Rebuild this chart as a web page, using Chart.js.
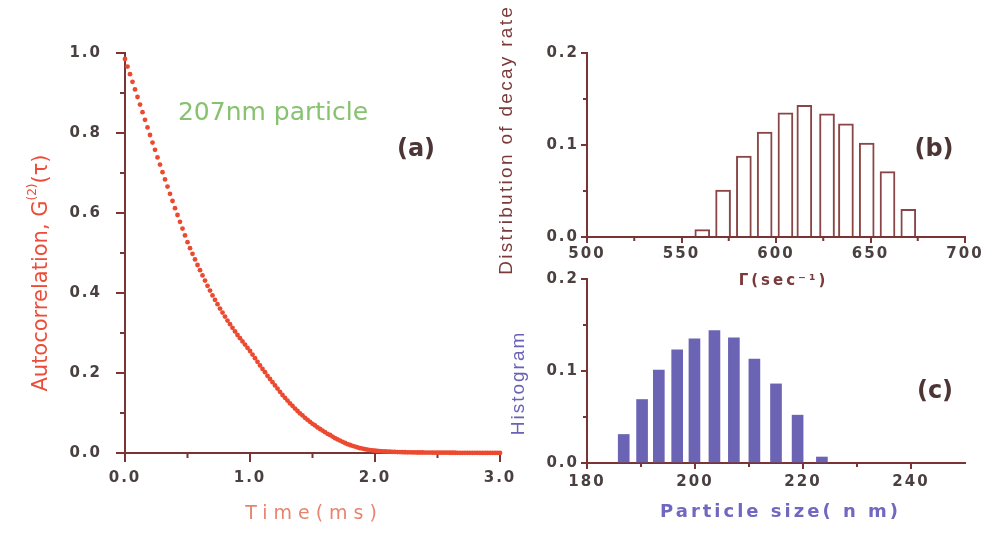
<!DOCTYPE html>
<html>
<head>
<meta charset="utf-8">
<script src="https://cdn.jsdelivr.net/npm/chart.js@4.4.1/dist/chart.umd.min.js"></script>
<style>
  html, body { margin: 0; background: #fff; }
  #wrap { position: relative; width: 983px; height: 535px; }
  #wrap canvas { position: absolute; left: 0; top: 0; }
</style>
</head>
<body>
<div id="wrap">
  <canvas id="chartA" width="983" height="535"></canvas>
  <canvas id="chartB" width="983" height="535"></canvas>
  <canvas id="chartC" width="983" height="535"></canvas>
</div>
<script>
// (a) autocorrelation vs time
const timeMs = [
  0.00, 0.02, 0.04, 0.06, 0.08, 0.10, 0.12, 0.14, 0.16, 0.18, 0.20, 0.22, 0.24, 0.26, 0.28, 0.30, 0.32, 0.34, 0.36, 0.38,
  0.40, 0.42, 0.44, 0.46, 0.48, 0.50, 0.52, 0.54, 0.56, 0.58, 0.60, 0.62, 0.64, 0.66, 0.68, 0.70, 0.72, 0.74, 0.76, 0.78,
  0.80, 0.82, 0.84, 0.86, 0.88, 0.90, 0.92, 0.94, 0.96, 0.98, 1.00, 1.02, 1.04, 1.06, 1.08, 1.10, 1.12, 1.14, 1.16, 1.18,
  1.20, 1.22, 1.24, 1.26, 1.28, 1.30, 1.32, 1.34, 1.36, 1.38, 1.40, 1.42, 1.44, 1.46, 1.48, 1.50, 1.52, 1.54, 1.56, 1.58,
  1.60, 1.62, 1.64, 1.66, 1.68, 1.70, 1.72, 1.74, 1.76, 1.78, 1.80, 1.82, 1.84, 1.86, 1.88, 1.90, 1.92, 1.94, 1.96, 1.98,
  2.00, 2.02, 2.04, 2.06, 2.08, 2.10, 2.12, 2.14, 2.16, 2.18, 2.20, 2.22, 2.24, 2.26, 2.28, 2.30, 2.32, 2.34, 2.36, 2.38,
  2.40, 2.42, 2.44, 2.46, 2.48, 2.50, 2.52, 2.54, 2.56, 2.58, 2.60, 2.62, 2.64, 2.66, 2.68, 2.70, 2.72, 2.74, 2.76, 2.78,
  2.80, 2.82, 2.84, 2.86, 2.88, 2.90, 2.92, 2.94, 2.96, 2.98, 3.00
]
const autocorrelation = [
  0.985, 0.966, 0.947, 0.928, 0.909, 0.890, 0.871, 0.852, 0.833, 0.814, 0.795, 0.776, 0.758, 0.739, 0.721, 0.702, 0.684, 0.666, 0.648, 0.630,
  0.612, 0.595, 0.578, 0.561, 0.544, 0.527, 0.512, 0.498, 0.484, 0.470, 0.457, 0.444, 0.431, 0.418, 0.406, 0.394, 0.383, 0.372, 0.361, 0.351,
  0.341, 0.331, 0.322, 0.313, 0.304, 0.295, 0.287, 0.279, 0.271, 0.263, 0.255, 0.246, 0.237, 0.228, 0.219, 0.210, 0.202, 0.193, 0.185, 0.177,
  0.169, 0.161, 0.153, 0.145, 0.138, 0.131, 0.124, 0.118, 0.111, 0.105, 0.099, 0.094, 0.088, 0.083, 0.078, 0.073, 0.069, 0.064, 0.060, 0.056,
  0.052, 0.048, 0.045, 0.041, 0.037, 0.034, 0.031, 0.028, 0.025, 0.022, 0.020, 0.018, 0.016, 0.014, 0.012, 0.011, 0.0095, 0.0083, 0.0072, 0.0065,
  0.0058, 0.0052, 0.0047, 0.0043, 0.0039, 0.0035, 0.0032, 0.0029, 0.0026, 0.0024, 0.0022, 0.0020, 0.0019, 0.0017, 0.0016, 0.0015, 0.0014, 0.0013, 0.0012, 0.0012,
  0.0011, 0.0010, 0.0010, 0.0009, 0.0009, 0.0008, 0.0008, 0.0007, 0.0007, 0.0007, 0.0006, 0.0006, 0.0006, 0.0005, 0.0005, 0.0005, 0.0005, 0.0004, 0.0004, 0.0004,
  0.0004, 0.0004, 0.0003, 0.0003, 0.0003, 0.0003, 0.0003, 0.0003, 0.0002, 0.0002, 0.0002
]
const timeTicks = [0, 1, 2, 3]
const timeMinorTicks = [0.5, 1.5, 2.5]
const corrTicks = [0, 0.2, 0.4, 0.6, 0.8, 1.0]
const corrMinorTicks = [0.1, 0.3, 0.5, 0.7, 0.9]

// (b) decay rate distribution
const decayRate = [561, 572, 583, 594, 605, 615, 627, 637, 648, 659, 670]
const decayDistribution = [0.008, 0.051, 0.088, 0.114, 0.135, 0.143, 0.134, 0.123, 0.102, 0.071, 0.030]
const decayTicks = [500, 550, 600, 650, 700]
const decayMinorTicks = [525, 575, 625, 675]

// (c) particle size histogram
const particleSize = [186.8, 190.2, 193.3, 196.7, 199.9, 203.6, 207.2, 211.0, 215.0, 219.0, 223.5]
const sizeHistogram = [0.031, 0.069, 0.101, 0.123, 0.135, 0.144, 0.136, 0.113, 0.086, 0.052, 0.0065]
const sizeTicks = [180, 200, 220, 240]
const sizeMinorTicks = [190, 210, 230]

const fractionTicks = [0, 0.1, 0.2]
const fractionMinorTicks = [0.05, 0.15]

const axisColor = '#7a3434'
const tickColor = '#4a4040'
const tickFont = { family: 'DejaVu Sans', size: 15, weight: 'bold' }

// tick labels in the figure are letter-spaced
const spacedTicks = {
  id: 'spacedTicks',
  beforeDraw (chart) {
    chart.ctx.letterSpacing = '2px'
  }
}

const minorTicks = {
  id: 'minorTicks',
  beforeDatasetsDraw (chart, args, opts) {
    const { ctx, chartArea } = chart
    const { x, y } = chart.scales
    ctx.save()
    ctx.strokeStyle = axisColor
    ctx.lineWidth = 2
    ctx.beginPath()
    for (const v of opts.x) {
      const px = x.getPixelForValue(v)
      ctx.moveTo(px, chartArea.bottom)
      ctx.lineTo(px, chartArea.bottom + opts.length)
    }
    for (const v of opts.y) {
      const py = y.getPixelForValue(v)
      ctx.moveTo(chartArea.left, py)
      ctx.lineTo(chartArea.left - opts.length, py)
    }
    ctx.stroke()
    ctx.restore()
  }
}

// free text: panel letters, axis titles, annotation
const panelText = {
  id: 'panelText',
  afterDraw (chart, args, opts) {
    const ctx = chart.ctx
    for (const item of opts.items) {
      const runs = item.runs || [{ text: item.text, font: item.font, dy: 0 }]
      const spacing = item.spacing || 0
      ctx.save()
      ctx.translate(item.x, item.y)
      if (item.rotate) ctx.rotate(item.rotate)
      ctx.fillStyle = item.color
      ctx.letterSpacing = spacing + 'px'
      ctx.textAlign = 'left'
      ctx.textBaseline = 'middle'
      let total = 0
      for (const r of runs) {
        ctx.font = r.font
        total += ctx.measureText(r.text).width
      }
      let cx = -(total - spacing) / 2
      for (const r of runs) {
        ctx.font = r.font
        ctx.fillText(r.text, cx, r.dy || 0)
        cx += ctx.measureText(r.text).width
      }
      ctx.restore()
    }
  }
}

function axis ({ min, max, ticks, digits, horizontal, size, tickLength, padding }) {
  return {
    type: 'linear',
    min,
    max,
    offset: false,
    border: { display: true, color: axisColor, width: 2 },
    grid: {
      display: true,
      drawOnChartArea: false,
      drawTicks: true,
      offset: false,
      tickLength,
      color: axisColor,
      lineWidth: 2
    },
    ticks: {
      font: tickFont,
      color: tickColor,
      padding,
      autoSkip: false,
      maxRotation: 0,
      callback: v => v.toFixed(digits)
    },
    afterBuildTicks: scale => {
      scale.ticks = ticks.map(value => ({ value }))
    },
    afterFit: scale => {
      if (horizontal) scale.height = size
      else scale.width = size
      scale.paddingLeft = scale.paddingRight = scale.paddingTop = scale.paddingBottom = 0
    }
  }
}

const common = {
  responsive: false,
  animation: false,
  events: []
}

new Chart(document.getElementById('chartA'), {
  type: 'scatter',
  data: {
    datasets: [{
      data: timeMs.map((t, i) => ({ x: t, y: autocorrelation[i] })),
      pointRadius: 2.4,
      pointBorderWidth: 0,
      pointBackgroundColor: '#ec4a30',
      showLine: false,
      clip: false
    }]
  },
  options: {
    ...common,
    layout: { padding: { left: 65, right: 483, top: 53, bottom: 42 } },
    scales: {
      x: axis({ min: 0, max: 3, ticks: timeTicks, digits: 1, horizontal: true, size: 40, tickLength: 9, padding: 7 }),
      y: axis({ min: 0, max: 1, ticks: corrTicks, digits: 1, horizontal: false, size: 60, tickLength: 9, padding: 14 })
    },
    plugins: {
      legend: { display: false },
      tooltip: { enabled: false },
      minorTicks: { x: timeMinorTicks, y: corrMinorTicks, length: 5 },
      panelText: {
        items: [
          { text: '207nm particle', font: '25px "DejaVu Sans"', color: '#86c270', x: 273, y: 113 },
          { text: '(a)', font: 'bold 24px "DejaVu Sans"', color: '#4d3535', x: 416, y: 150 },
          { text: 'Time(ms)', font: '19px "DejaVu Sans"', spacing: 6, color: '#e8846e', x: 311, y: 514 },
          {
            runs: [
              { text: 'Autocorrelation, G', font: '21px "DejaVu Sans"' },
              { text: '(2)', font: '12px "DejaVu Sans"', dy: -9 },
              { text: '(τ)', font: '21px "DejaVu Sans"' }
            ],
            color: '#ec4c38',
            x: 42,
            y: 273,
            rotate: -Math.PI / 2
          }
        ]
      }
    }
  },
  plugins: [spacedTicks, minorTicks, panelText]
})

new Chart(document.getElementById('chartB'), {
  type: 'bar',
  data: {
    datasets: [{
      data: decayRate.map((x, i) => ({ x, y: decayDistribution[i] })),
      barThickness: 15,
      backgroundColor: '#ffffff',
      borderColor: '#8a4646',
      borderWidth: 2,
      borderSkipped: 'bottom'
    }]
  },
  options: {
    ...common,
    layout: { padding: { left: 527, right: 18, top: 53, bottom: 258 } },
    scales: {
      x: axis({ min: 500, max: 700, ticks: decayTicks, digits: 0, horizontal: true, size: 40, tickLength: 6, padding: 2 }),
      y: axis({ min: 0, max: 0.2, ticks: fractionTicks, digits: 1, horizontal: false, size: 60, tickLength: 6, padding: 2 })
    },
    plugins: {
      legend: { display: false },
      tooltip: { enabled: false },
      minorTicks: { x: decayMinorTicks, y: fractionMinorTicks, length: 4 },
      panelText: {
        items: [
          { text: '(b)', font: 'bold 24px "DejaVu Sans"', color: '#4d3535', x: 934, y: 150 },
          { text: 'Distribution of decay rate', font: '19px "Liberation Sans"', spacing: 2.3, color: '#7a3a3a', x: 507, y: 141, rotate: -Math.PI / 2 },
          { text: 'Γ(sec⁻¹)', font: 'bold 15px "DejaVu Sans"', spacing: 3, color: '#7a3a3a', x: 782, y: 281 }
        ]
      }
    }
  },
  plugins: [spacedTicks, minorTicks, panelText]
})

new Chart(document.getElementById('chartC'), {
  type: 'bar',
  data: {
    datasets: [{
      data: particleSize.map((x, i) => ({ x, y: sizeHistogram[i] })),
      barThickness: 11,
      backgroundColor: '#6b64b5',
      borderWidth: 0
    }]
  },
  options: {
    ...common,
    layout: { padding: { left: 527, right: 18, top: 279, bottom: 32 } },
    scales: {
      x: axis({ min: 180, max: 250, ticks: sizeTicks, digits: 0, horizontal: true, size: 40, tickLength: 6, padding: 4 }),
      y: axis({ min: 0, max: 0.2, ticks: fractionTicks, digits: 1, horizontal: false, size: 60, tickLength: 6, padding: 2 })
    },
    plugins: {
      legend: { display: false },
      tooltip: { enabled: false },
      minorTicks: { x: sizeMinorTicks, y: fractionMinorTicks, length: 4 },
      panelText: {
        items: [
          { text: '(c)', font: 'bold 24px "DejaVu Sans"', color: '#4d3535', x: 935, y: 392 },
          { text: 'Histogram', font: '19px "Liberation Sans"', spacing: 2, color: '#6a62b4', x: 519, y: 384, rotate: -Math.PI / 2 },
          { text: 'Particle size( n m)', font: 'bold 18px "DejaVu Sans"', spacing: 3, color: '#7068c0', x: 779, y: 512 }
        ]
      }
    }
  },
  plugins: [spacedTicks, minorTicks, panelText]
})
</script>
</body>
</html>
